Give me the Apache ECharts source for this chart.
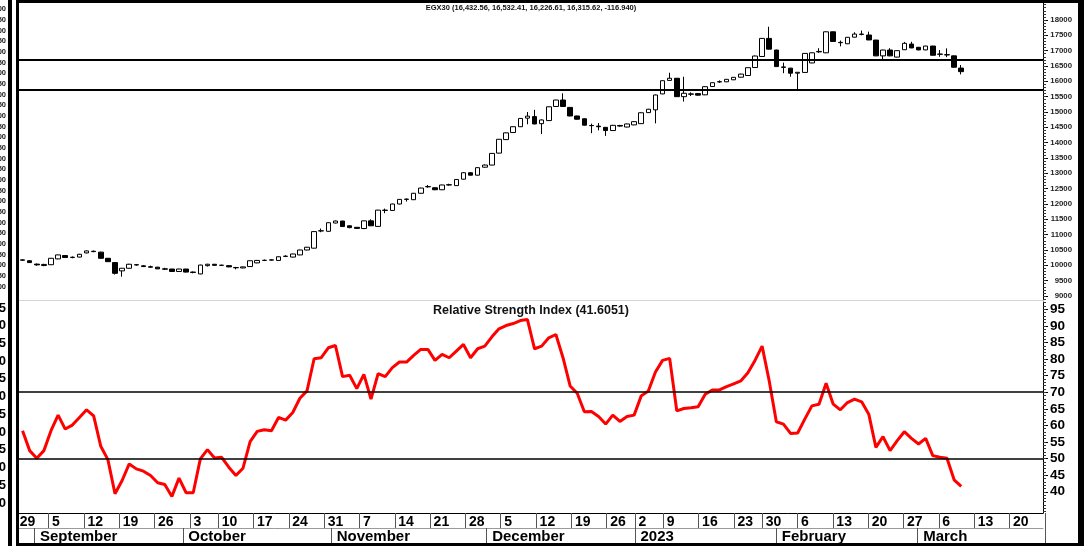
<!DOCTYPE html>
<html>
<head>
<meta charset="utf-8">
<script src="https://cdn.jsdelivr.net/npm/echarts/dist/echarts.min.js"></script>
<style>
html,body{margin:0;padding:0;background:#fff;}
#chart{width:1089px;height:546px;}
</style>
</head>
<body>
<div id="chart"></div>
<script>
// ---------- DATA ----------
const slotCount = 144;      // trading-day slots on the plotting axes (incl. empty future days)
const labelSlotCount = 146; // trading-day slots on the date-label axis

const weekTickSlots  = [0,5,10,15,20,25,29,34,39,44,49,54,59,64,69,74,79,84,88,92,97,102,106,111,116,121,126,131,136,141];
const weekTickLabels = ['29','5','12','19','26','3','10','17','24','31','7','14','21','28','5','12','19','26','2','9','16','23','30','6','13','20','27','6','13','20'];
const monthSlots  = [3,24,45,67,88,108,128];
const monthNames  = ['September','October','November','December','2023','February','March'];

const openVals = [
10165,10150,10040,9995,10020,10210,10320,10255,10270,10405,
10460,10430,10230,10090,9820,9905,10020,9985,9955,9940,
9885,9880,9800,9880,9780,9720,9990,10036,10000,9990,
9930,9915,9960,10080,10160,10170,10160,10290,10270,10340,
10500,10560,11120,11110,11380,11445,11290,11240,11200,11450,
11270,11790,11790,12000,12150,12140,12350,12560,12530,12465,
12620,12600,12810,13020,12940,13200,13270,13660,14100,14330,
14520,14800,14850,14620,14720,15180,15390,15150,14870,14780,
14560,14540,14500,14395,14560,14510,14580,14620,14980,15070,
15590,16030,16100,15500,15590,15600,15560,15830,15980,15985,
16050,16135,16190,16450,16810,17400,17020,16470,16430,16265,
16290,16600,16960,16930,17615,17270,17225,17440,17540,17510,
17345,16830,17020,16790,17030,17215,17110,17025,17150,16880,
16870,16830,16432.56];
const closeVals = [
10180,10090,10015,10030,10230,10340,10255,10265,10360,10470,
10447,10230,10120,9740,9905,10036,10013,9960,9940,9885,
9875,9800,9880,9780,9770,10010,10036,10000,10005,9950,
9920,9950,10150,10160,10165,10180,10280,10300,10370,10500,
10590,11100,11130,11390,11445,11265,11230,11205,11450,11290,
11800,11800,12000,12150,12160,12350,12520,12570,12465,12620,
12630,12800,13020,12940,13185,13270,13650,14110,14320,14520,
14790,14865,14610,14740,15170,15390,15180,14870,14765,14570,
14555,14520,14395,14565,14540,14610,14685,14975,15090,15555,
16020,16100,15500,15610,15580,15550,15825,15955,15990,16065,
16130,16235,16445,16825,17400,17050,16480,16455,16265,16295,
16910,16930,16975,17615,17300,17260,17435,17540,17530,17350,
16830,17020,16830,17000,17240,17090,17025,17150,16850,16890,
16860,16460,16315.62];
const lowVals = [
10150,10080,9990,9970,10010,10200,10240,10230,10260,10390,
10430,10220,10110,9700,9630,9890,9990,9945,9915,9880,
9860,9790,9790,9770,9740,9710,9960,9990,9980,9940,
9870,9900,9950,10070,10140,10160,10150,10270,10260,10330,
10490,10550,11080,11100,11370,11255,11210,11195,11180,11280,
11260,11700,11780,11990,12080,12130,12340,12530,12450,12455,
12600,12590,12800,12930,12930,13190,13260,13650,14090,14320,
14510,14600,14600,14280,14710,15170,15170,14860,14750,14560,
14310,14400,14220,14385,14520,14500,14570,14610,14970,14630,
15580,16020,15490,15340,15520,15530,15550,15820,15950,15975,
16040,16125,16180,16440,16800,17040,16470,16265,16150,15720,
16280,16590,16930,16920,17290,17140,17215,17430,17500,17340,
16820,16680,16820,16780,17020,17080,17010,17015,16840,16800,
16790,16440,16226.61];
const highVals = [
10200,10170,10060,10050,10240,10350,10335,10290,10375,10485,
10485,10445,10240,10100,9910,10050,10045,10010,9990,9950,
9920,9885,9890,9885,9800,10020,10050,10040,10020,10000,
9950,9960,10160,10176,10190,10200,10290,10330,10380,10510,
10600,11110,11200,11400,11460,11450,11300,11250,11460,11500,
11810,11850,12010,12160,12180,12360,12530,12620,12540,12630,
12660,12810,13030,13030,13195,13290,13660,14120,14330,14530,
14800,15000,15070,14760,15180,15400,15610,15160,14880,14790,
14620,14640,14510,14580,14580,14620,14700,14990,15100,15570,
16030,16280,16110,16150,15640,15620,15840,15965,16030,16075,
16140,16250,16455,16840,17410,17780,17030,16610,16440,16300,
16920,16945,17080,17625,17625,17330,17445,17600,17655,17620,
17355,17030,17080,17010,17285,17290,17120,17160,17160,17020,
17075,16840,16532.41];

const rsiVals = [
58.4,52.4,50.1,52.4,58.4,63.1,58.9,60.1,62.4,64.7,
62.9,53.7,49.7,39.4,43.4,48.4,46.9,46.2,44.9,42.7,
42.2,38.6,44.1,39.7,39.7,49.9,52.7,50.2,50.4,47.4,
44.9,47.1,55.1,58.2,58.7,58.4,62.4,61.6,63.9,68.2,
70.4,80.1,80.4,83.4,84.1,74.7,75.1,71.1,75.4,67.9,
75.6,74.7,77.4,79.1,79.1,81.1,82.9,82.9,79.6,81.4,
80.4,82.4,84.4,80.4,83.1,83.9,86.7,89.1,90.1,90.7,
91.6,91.9,83.1,83.9,86.4,87.4,80.4,71.9,69.7,64.1,
64.2,62.7,60.4,63.1,61.2,62.7,63.1,68.9,70.4,76.1,
79.6,80.2,64.4,65.1,65.3,65.6,69.4,70.7,70.7,71.7,
72.5,73.4,75.9,79.6,83.9,73.4,61.1,60.4,57.6,57.7,
61.9,65.9,66.4,72.7,66.4,64.7,66.9,67.9,67.1,63.4,
53.4,56.6,52.4,55.4,58.1,56.1,54.4,56.1,50.9,50.4,
50.1,43.6,41.6051];

const priceLevels = [16690, 15720];         // horizontal reference lines on price panel
const rsiLevels   = [70, 50];               // horizontal reference lines on RSI panel
const priceTickLabels = [9000,9500,10000,10500,11000,11500,12000,12500,13000,13500,14000,14500,15000,15500,16000,16500,17000,17500,18000];
const rsiTickLabels   = [40,45,50,55,60,65,70,75,80,85,90,95];
const titleText = 'EGX30 (16,432.56, 16,532.41, 16,226.61, 16,315.62, -116.940)';
const rsiTitle  = 'Relative Strength Index (41.6051)';

// ---------- BUILD ----------
const makeCats = (n) => { const a = []; for (let i = 0; i < n; i++) a.push(String(i)); return a; };
const slotCats = makeCats(slotCount);
const labelCats = makeCats(labelSlotCount);
const weekAt = {}; weekTickSlots.forEach((s, k) => { weekAt[s] = weekTickLabels[k]; });
const monthAt = {}; monthSlots.forEach((s, k) => { monthAt[s] = monthNames[k]; });
const candleData = openVals.map((o, i) => [o, closeVals[i], lowVals[i], highVals[i]]);

const priceMinor = []; for (let v = 8900; v <= 18500; v += 100) priceMinor.push(v);
const rsiMinor = []; for (let v = 34; v <= 97; v += 1) rsiMinor.push(v);

const FONT = '"Liberation Sans", Arial, sans-serif';
const isWeek = (idx) => weekAt[idx] !== undefined;
const isWeekTick = (idx) => idx !== 0 && weekAt[idx] !== undefined;
const isMonth = (idx) => monthAt[idx] !== undefined;

const chart = echarts.init(document.getElementById('chart'), null, {renderer: 'canvas'});
chart.setOption({
  animation: false,
  backgroundColor: '#ffffff',
  textStyle: {fontFamily: FONT},
  grid: [
    {left: 19, top: 3, width: 1024, height: 297},
    {left: 19, top: 302, width: 1024, height: 211},
    {left: 6, top: 9.3, width: 1, height: 277.4},
    {left: 6, top: 308, width: 1, height: 195},
    {left: 13.2, top: 302, width: 1031.6, height: 211}
  ],
  xAxis: [
    {gridIndex: 0, type: 'category', data: slotCats, boundaryGap: true,
     axisLine: {show: true, lineStyle: {color: '#d4d4d4', width: 1}},
     axisTick: {show: false}, axisLabel: {show: false}, splitLine: {show: false}},
    {gridIndex: 1, type: 'category', data: slotCats, boundaryGap: true, position: 'bottom',
     axisLine: {show: true, lineStyle: {color: '#000', width: 1}},
     axisTick: {show: false}, axisLabel: {show: false}, splitLine: {show: false}},
    {gridIndex: 1, type: 'category', data: slotCats, boundaryGap: true, position: 'bottom', offset: 15,
     axisLine: {show: true, lineStyle: {color: '#9a9a9a', width: 1}},
     axisTick: {show: false}, axisLabel: {show: false}, splitLine: {show: false}},
    {gridIndex: 2, type: 'category', show: false, data: ['a']},
    {gridIndex: 3, type: 'category', show: false, data: ['a']},
    {gridIndex: 4, type: 'category', data: labelCats, boundaryGap: true, position: 'bottom',
     axisLine: {show: false},
     axisTick: {show: true, interval: isWeekTick, length: 15, lineStyle: {color: '#555', width: 1}},
     axisLabel: {show: true, interval: isWeek,
                 formatter: (v, idx) => idx === 0 ? '{p|' + weekAt[idx] + '}' : (weekAt[idx] || ''),
                 rich: {p: {padding: [0, 0, 0, 3], fontSize: 14, fontWeight: 'bold', color: '#000', fontFamily: FONT}},
                 align: 'left', margin: 2, fontSize: 14, fontWeight: 'bold', color: '#000', fontFamily: FONT},
     splitLine: {show: false}},
    {gridIndex: 4, type: 'category', data: labelCats, boundaryGap: true, position: 'bottom', offset: 15,
     axisLine: {show: false},
     axisTick: {show: true, interval: isMonth, length: 16, lineStyle: {color: '#555', width: 1}},
     axisLabel: {show: true, interval: isMonth, formatter: (v, idx) => monthAt[idx] || '',
                 align: 'left', margin: 1, padding: [0, 0, 0, 2],
                 fontSize: 15, fontWeight: 'bold', color: '#000', fontFamily: FONT},
     splitLine: {show: false}}
  ],
  yAxis: [
    {gridIndex: 0, type: 'value', position: 'right', min: 8870, max: 18554, scale: true,
     splitLine: {show: false},
     axisLine: {show: true, lineStyle: {color: '#000', width: 1}},
     axisTick: {show: true, customValues: priceTickLabels, length: 5, lineStyle: {color: '#000'}},
     axisLabel: {show: true, customValues: priceTickLabels, formatter: (v) => String(v),
                 align: 'right', margin: 29, fontSize: 7.8, fontWeight: 'bold', color: '#222', fontFamily: FONT}},
    {gridIndex: 0, type: 'value', position: 'right', min: 8870, max: 18554, scale: true,
     splitLine: {show: false}, axisLine: {show: false},
     axisTick: {show: true, customValues: priceMinor, length: 3, lineStyle: {color: '#333'}},
     axisLabel: {show: false}},
    {gridIndex: 1, type: 'value', position: 'right', min: 33.6, max: 97.2, scale: true,
     splitLine: {show: false},
     axisLine: {show: true, lineStyle: {color: '#000', width: 1}},
     axisTick: {show: true, customValues: rsiTickLabels, length: 5, lineStyle: {color: '#000'}},
     axisLabel: {show: true, customValues: rsiTickLabels, formatter: (v) => String(v),
                 margin: 7, fontSize: 13.5, fontWeight: 'bold', color: '#000', fontFamily: FONT}},
    {gridIndex: 1, type: 'value', position: 'right', min: 33.6, max: 97.2, scale: true,
     splitLine: {show: false}, axisLine: {show: false},
     axisTick: {show: true, customValues: rsiMinor, length: 3, lineStyle: {color: '#333'}},
     axisLabel: {show: false}},
    {gridIndex: 2, type: 'value', position: 'left', min: 10400, max: 11700, interval: 50,
     splitLine: {show: false}, axisLine: {show: false}, axisTick: {show: false},
     axisLabel: {margin: 1, fontSize: 7.5, fontWeight: 'bold', color: '#222', fontFamily: FONT}},
    {gridIndex: 3, type: 'value', position: 'left', min: 40, max: 95, interval: 5,
     splitLine: {show: false}, axisLine: {show: false}, axisTick: {show: false},
     axisLabel: {margin: 1, fontSize: 13, fontWeight: 'bold', color: '#000', fontFamily: FONT}},
    {gridIndex: 4, type: 'value', show: false, min: 0, max: 1}
  ],
  series: [
    {type: 'candlestick', xAxisIndex: 0, yAxisIndex: 0, data: candleData, barWidth: 5,
     itemStyle: {color: '#ffffff', color0: '#000000', borderColor: '#000000', borderColor0: '#000000', borderWidth: 1},
     markLine: {silent: true, symbol: 'none', label: {show: false},
                lineStyle: {color: '#000', width: 2, type: 'solid'},
                data: priceLevels.map(v => ({yAxis: v}))}},
    {type: 'line', xAxisIndex: 1, yAxisIndex: 2, data: rsiVals, symbol: 'none', smooth: false,
     lineStyle: {color: '#ff0000', width: 3}, itemStyle: {color: '#ff0000'}, z: 3,
     markLine: {silent: true, symbol: 'none', label: {show: false},
                lineStyle: {color: '#000', width: 1.5, type: 'solid'},
                data: rsiLevels.map(v => ({yAxis: v}))}}
  ],
  graphic: [
    {type: 'rect', z: 100, shape: {x: 8, y: 0, width: 4, height: 546}, style: {fill: '#000'}},
    {type: 'rect', z: 100, shape: {x: 16, y: 0, width: 3, height: 546}, style: {fill: '#000'}},
    {type: 'rect', z: 100, shape: {x: 16, y: 0, width: 1068, height: 3}, style: {fill: '#000'}},
    {type: 'rect', z: 100, shape: {x: 1078, y: 0, width: 6, height: 546}, style: {fill: '#000'}},
    {type: 'rect', z: 100, shape: {x: 16, y: 543, width: 1068, height: 3}, style: {fill: '#000'}},
    {type: 'text', z: 100, x: 531, y: 4,
     style: {text: titleText, textAlign: 'center', textVerticalAlign: 'top', fill: '#111',
             font: 'bold 7.5px ' + FONT}},
    {type: 'text', z: 100, x: 531, y: 304,
     style: {text: rsiTitle, textAlign: 'center', textVerticalAlign: 'top', fill: '#111',
             font: 'bold 12.5px ' + FONT}}
  ]
});
</script>
</body>
</html>
